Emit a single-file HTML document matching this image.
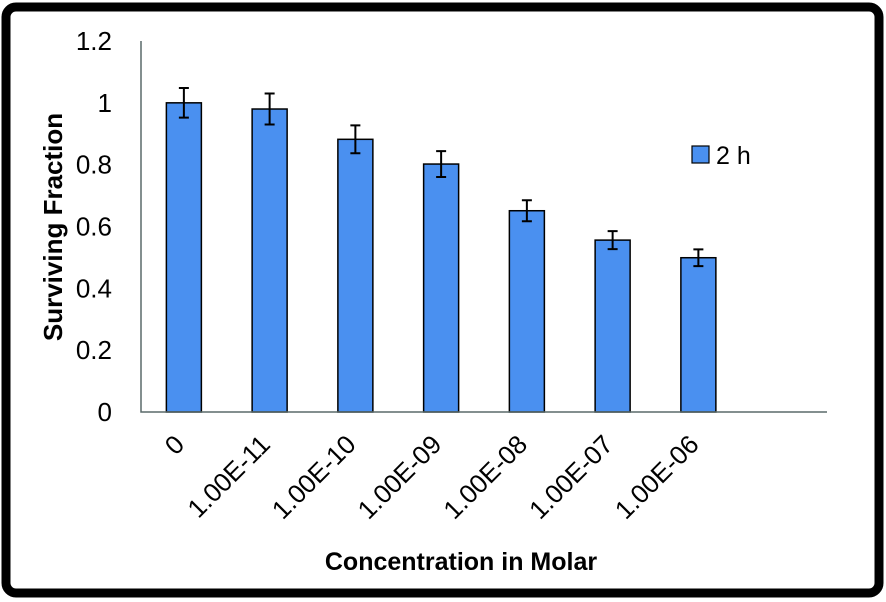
<!DOCTYPE html>
<html><head><meta charset="utf-8"><style>
body{margin:0;background:#fff}
svg{display:block;font-family:"Liberation Sans",sans-serif}
</style></head><body>
<svg id="chart" width="886" height="602">
<rect x="6" y="7" width="873" height="586" rx="10" fill="#fff" stroke="#000" stroke-width="9"/>
<g id="plot"></g>
</svg>
<script>
const categories=["0","1.00E-11","1.00E-10","1.00E-09","1.00E-08","1.00E-07","1.00E-06"];
const values=[1.0,0.98,0.882,0.802,0.651,0.556,0.499];
const errors=[0.048,0.05,0.045,0.042,0.034,0.029,0.027];
const yTicks=[0,0.2,0.4,0.6,0.8,1,1.2];
const yTickLabels=["0","0.2","0.4","0.6","0.8","1","1.2"];
const seriesName="2 h";
const NS="http://www.w3.org/2000/svg";
const g=document.getElementById('plot');
const X0=141,X1=827,Y0=412,Y1=41,nCat=8;
const catW=(X1-X0)/nCat;
function y(v){return Y0-(v/1.2)*(Y0-Y1);}
function xc(i){return X0+catW*(i+0.5);}
function mk(tag,attrs){const e=document.createElementNS(NS,tag);for(const k in attrs)e.setAttribute(k,attrs[k]);g.appendChild(e);return e;}
yTicks.forEach((t,i)=>{
  const e=mk('text',{x:112,y:y(t)+9,'text-anchor':'end','font-size':26,fill:'#000'});
  e.textContent=yTickLabels[i];
  
  
});
values.forEach((v,i)=>{
  const bw=35,cx=xc(i);
  const r=mk('rect',{x:cx-bw/2,y:y(v),width:bw,height:Y0-y(v),fill:'#4a90f0',stroke:'#000','stroke-width':1.5});
  
  
  const t=y(v+errors[i]),b=y(v-errors[i]);
  const p=mk('path',{d:`M${cx},${t}V${b}M${cx-5},${t}H${cx+5}M${cx-5},${b}H${cx+5}`,stroke:'#000','stroke-width':2,fill:'none'});
  
  
  const lx=cx+2,ly=446;
  const l=mk('text',{x:lx,y:ly,'text-anchor':'end','font-size':26,fill:'#000',transform:`rotate(-45 ${lx} ${ly})`});
  l.textContent=categories[i];
  
  
});
const ax=mk('path',{d:`M${X0},${Y1}V${Y0}H${X1}`,stroke:'#5a6a6a','stroke-width':1.5,fill:'none'});


const ls=mk('rect',{x:692,y:146,width:17,height:17,fill:'#4a90f0',stroke:'#000','stroke-width':1.2});


const lt=mk('text',{x:716,y:164,'font-size':25,fill:'#000'});
lt.textContent=seriesName;


const xt=mk('text',{x:461,y:570,'text-anchor':'middle','font-size':25,'font-weight':'bold',fill:'#000'});
xt.textContent="Concentration in Molar";


const yt=mk('text',{x:62,y:227,'text-anchor':'middle','font-size':26,'font-weight':'bold',fill:'#000',transform:'rotate(-90 62 227)'});
yt.textContent="Surviving Fraction";


</script>
</body></html>
